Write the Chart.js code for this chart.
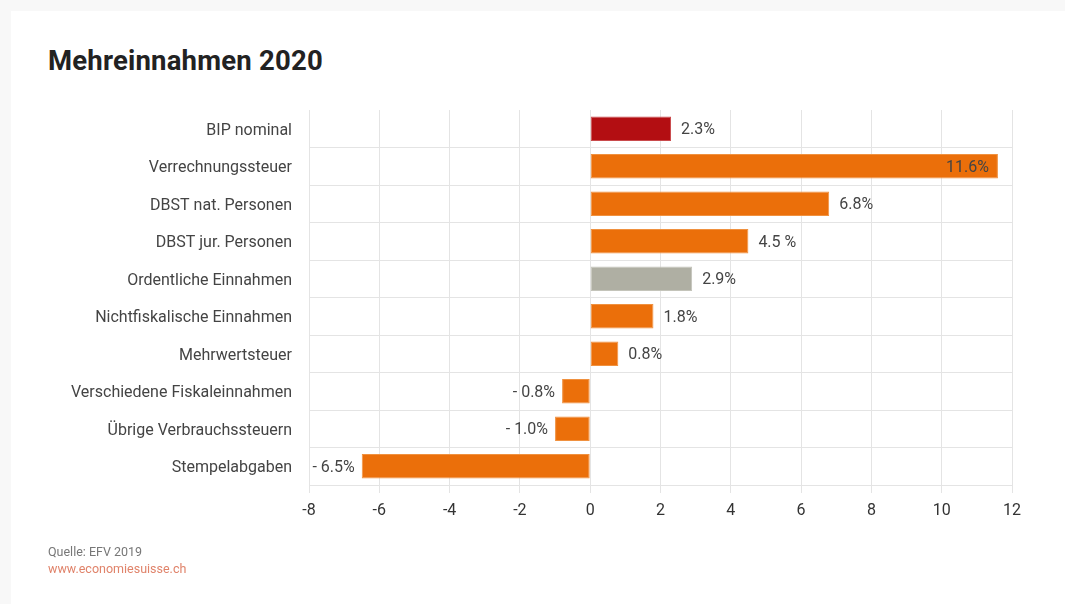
<!DOCTYPE html>
<html>
<head>
<meta charset="utf-8">
<script src="https://cdn.jsdelivr.net/npm/chart.js@4"></script>
<style>
  html, body { margin:0; padding:0; background:#f8f8f8; }
  body { width:1065px; height:604px; position:relative; overflow:hidden; font-family: Roboto, "Noto Sans", sans-serif; }
  #card { position:absolute; left:11px; top:11px; right:0; bottom:0; background:#ffffff; }
  #title { position:absolute; left:48px; top:44px; font-size:27.5px; font-weight:700; color:#222; letter-spacing:0.2px; }
  #src { position:absolute; left:48px; top:544px; font-size:12.5px; color:#777; }
  #web { position:absolute; left:48px; top:561px; font-size:12.5px; color:#e0836a; }
  #wrap { position:absolute; left:0; top:0; width:1065px; height:604px; }
</style>
</head>
<body>
<div id="card"></div>
<div id="title">Mehreinnahmen 2020</div>
<div id="wrap"><canvas id="c"></canvas></div>
<div id="src">Quelle: EFV 2019</div>
<div id="web">www.economiesuisse.ch</div>
<script>
const categories = [
  "BIP nominal",
  "Verrechnungssteuer",
  "DBST nat. Personen",
  "DBST jur. Personen",
  "Ordentliche Einnahmen",
  "Nichtfiskalische Einnahmen",
  "Mehrwertsteuer",
  "Verschiedene Fiskaleinnahmen",
  "Übrige Verbrauchssteuern",
  "Stempelabgaben"
];
const values = [2.3, 11.6, 6.8, 4.5, 2.9, 1.8, 0.8, -0.8, -1.0, -6.5];
const valueLabels = ["2.3%", "11.6%", "6.8%", "4.5 %", "2.9%", "1.8%", "0.8%", "- 0.8%", "- 1.0%", "- 6.5%"];
const xTicks = [-8, -6, -4, -2, 0, 2, 4, 6, 8, 10, 12];

const RED = "#b30e12", ORANGE = "#eb6f0a", GREY = "#afafa3";
const barColors = [RED, ORANGE, ORANGE, ORANGE, GREY, ORANGE, ORANGE, ORANGE, ORANGE, ORANGE];
const barBorders = barColors.map(c => c === RED ? "#c94a4c" : c === GREY ? "#c4c4ba" : "#f0913f");

const FONT = "Roboto, 'Noto Sans', sans-serif";
const TEXT = "#444444";
const GRID = "#e4e4e4";

const valueLabelPlugin = {
  id: "valueLabels",
  afterDatasetsDraw(chart) {
    const ctx = chart.ctx;
    const meta = chart.getDatasetMeta(0);
    const area = chart.chartArea;
    ctx.save();
    ctx.font = "16px " + FONT;
    ctx.fillStyle = TEXT;
    ctx.textBaseline = "middle";
    meta.data.forEach((bar, i) => {
      const txt = valueLabels[i];
      const w = ctx.measureText(txt).width;
      const v = values[i];
      const y = bar.y + 1.5;
      if (v >= 0) {
        if (bar.x + 10 + w > area.right) {
          ctx.textAlign = "right";
          ctx.fillText(txt, bar.x - 9, y);
        } else {
          ctx.textAlign = "left";
          ctx.fillText(txt, bar.x + 10, y);
        }
      } else {
        ctx.textAlign = "right";
        ctx.fillText(txt, bar.x - 7, y);
      }
    });
    ctx.restore();
  }
};

new Chart(document.getElementById("c"), {
  type: "bar",
  data: {
    labels: categories,
    datasets: [{
      data: values,
      backgroundColor: barColors,
      borderColor: barBorders,
      borderWidth: 1,
      borderSkipped: false,
      barPercentage: 0.655,
      categoryPercentage: 1.0
    }]
  },
  options: {
    indexAxis: "y",
    responsive: true,
    maintainAspectRatio: false,
    animation: false,
    layout: { padding: { top: 110, right: 53, left: 0, bottom: 0 } },
    plugins: {
      legend: { display: false },
      tooltip: { enabled: false },
      title: { display: false }
    },
    scales: {
      x: {
        type: "linear",
        min: xTicks[0],
        max: xTicks[xTicks.length - 1],
        afterBuildTicks(scale) { scale.ticks = xTicks.map(v => ({ value: v })); },
        afterFit(scale) { scale.height = 604 - 485; },
        grid: { color: GRID, lineWidth: 1, tickLength: 8, drawTicks: true, tickColor: GRID },
        border: { display: true, color: GRID },
        ticks: { color: "#333", font: { family: FONT, size: 16 }, padding: 8 }
      },
      y: {
        type: "category",
        afterFit(scale) { scale.width = 309; },
        grid: {
          offset: true,
          drawTicks: false,
          color: (c) => c.index === 0 ? "rgba(0,0,0,0)" : GRID,
          lineWidth: 1
        },
        border: { display: false },
        ticks: { color: TEXT, font: { family: FONT, size: 16 }, padding: 17, labelOffset: 2 }
      }
    }
  },
  plugins: [valueLabelPlugin]
});
</script>
</body>
</html>
